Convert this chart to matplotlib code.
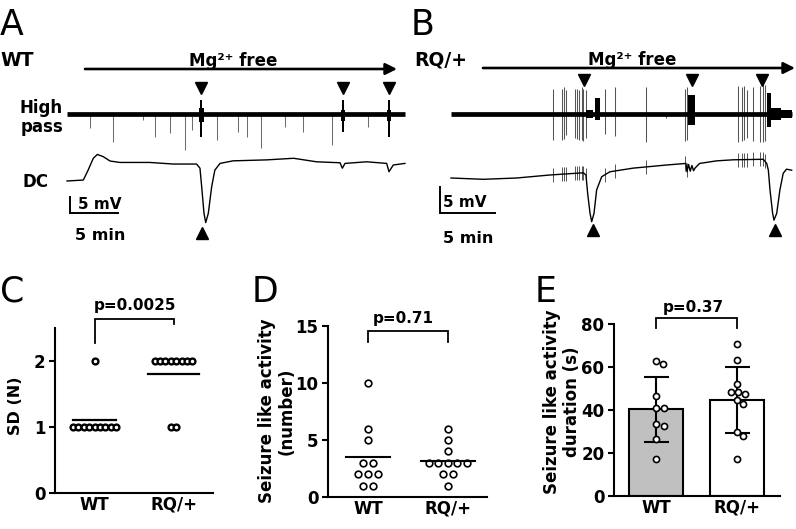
import numpy as np
import matplotlib
matplotlib.use("Agg")
import matplotlib.pyplot as plt

plt.rcParams['font.family'] = ['DejaVu Sans']
plt.rcParams['mathtext.fontset'] = 'dejavusans'

W, H = 796, 529

# ---------------- data ----------------
groups = ["WT", "RQ/+"]

# Panel A (WT): DC trace (min, mV)
wt_dc_t = [0.0, 1.7, 2.2, 2.74, 3.16, 3.78, 4.48, 5.5, 8.6, 11.07,
           13.5, 13.85, 14.03, 14.27, 14.45, 14.72, 15.07, 15.4, 15.94, 17.3,
           20.8, 23.6, 26.0, 28.44, 28.68, 28.96, 31.2, 33.3, 33.54, 33.99, 35.2]
wt_dc_mv = [0.0, 0.3, 3.4, 7.1, 8.3, 7.6, 6.25, 5.8, 5.8, 5.3,
            5.3, 4.0, -1.8, -10.1, -13.0, -10.1, -1.8, 3.4, 5.5, 6.3,
            6.6, 7.1, 6.0, 5.7, 4.0, 5.5, 6.0, 5.5, 2.9, 5.0, 5.5]
# Panel A high-pass: isolated spikes (time, depth) and seizure-like bursts
wt_spike_t = [2.40, 4.79, 7.92, 9.17, 10.73, 12.29, 13.02, 15.63, 17.81,
              18.75, 20.21, 22.71, 24.58, 27.60, 31.35]
wt_spike_depth = [4.4, 8.8, 1.9, 7.2, 5.9, 11.3, 5.0, 8.1, 5.6,
                  7.2, 10.6, 4.1, 5.6, 9.7, 4.1]
wt_burst_start = [13.70, 13.85, 28.50, 28.62, 33.30, 33.45]
wt_burst_end = [14.30, 14.10, 28.95, 28.85, 33.80, 33.65]
wt_burst_up = [2.0, 4.4, 1.5, 4.4, 1.5, 4.4]
wt_burst_down = [2.5, 7.2, 2.0, 5.5, 2.0, 7.2]
wt_hp_events = [13.96, 28.75, 33.54]
wt_sd_events = [14.06]

# Panel B (RQ/+)
rq_dc_t = [0.0, 2.94, 5.97, 9.0, 12.03, 12.27, 12.42, 12.64, 12.79, 13.0,
           13.24, 13.7, 14.45, 16.57, 19.6, 21.36, 21.45, 21.6, 21.75, 21.9,
           22.05, 22.18, 22.6, 24.15, 25.66, 28.39, 28.7, 28.85, 29.0, 29.24,
           29.36, 29.61, 29.9, 30.2, 30.5, 30.97]
rq_dc_mv = [0.0, -0.25, 0.0, 0.58, 1.0, 0.58, -2.9, -6.8, -8.4, -6.8,
            -2.3, 0.25, 1.2, 1.9, 2.5, 2.8, 1.2, 2.6, 1.3, 2.4,
            1.4, 1.9, 2.8, 3.3, 3.5, 3.6, 2.8, 1.5, -2.3, -6.8,
            -8.1, -6.8, -2.3, 0.9, 1.7, 1.5]
rq_spike_t = [9.30, 10.06, 10.27, 10.45, 11.27, 11.43, 11.66, 11.88, 12.03, 12.25,
              14.00, 14.91, 17.70, 19.55, 21.27, 21.43, 26.06, 26.43, 26.66, 26.88,
              27.48, 28.09, 28.34, 28.55]
rq_spike_up = [4.9, 4.9, 5.1, 4.6, 4.9, 4.9, 4.6, 5.1, 4.9, 4.6,
               4.9, 5.1, 5.1, 0.3, 4.9, 5.1, 5.4, 5.1, 5.4, 4.6,
               5.1, 5.4, 5.6, 5.6]
rq_spike_down = [5.0, 5.0, 4.8, 4.0, 4.6, 4.8, 5.0, 5.0, 5.2, 4.6,
                 3.9, 4.2, 5.4, 0.8, 5.2, 5.0, 5.4, 5.2, 5.0, 4.6,
                 5.2, 5.4, 5.4, 5.2]
rq_burst_start = [12.30, 13.05, 21.50, 28.70, 29.10, 30.00]
rq_burst_end = [12.90, 13.50, 22.20, 29.10, 30.00, 31.00]
rq_burst_up = [0.8, 3.0, 3.65, 4.0, 1.2, 0.7]
rq_burst_down = [0.8, 1.2, 2.1, 2.5, 1.2, 0.7]
rq_hp_events = [12.09, 21.94, 28.25]
rq_sd_events = [12.94, 29.45]

# scale bars
scale_mv = 5
scale_min = 5

# Panel C: SD number
sd_wt = [2, 1, 1, 1, 1, 1, 1, 1, 1, 1]
sd_rq = [2, 2, 2, 2, 2, 2, 2, 2, 1, 1]
# Panel D: seizure-like activity number
num_wt = [10, 6, 5, 3, 3, 2, 2, 2, 1, 1]
num_rq = [6, 5, 4, 3, 3, 3, 3, 3, 2, 2, 1]
# Panel E: seizure-like activity duration (s)
dur_wt = [62.9, 61.4, 46.7, 41.1, 41.1, 33.3, 32.6, 26.4, 17.2]
dur_rq = [70.7, 63.3, 52.0, 48.5, 48.2, 47.3, 44.7, 42.6, 29.9, 27.9, 17.2]

p_texts = ["p=0.0025", "p=0.71", "p=0.37"]

# ---------------- figure ----------------
fig = plt.figure(figsize=(W / 100, H / 100), dpi=100)


def ax_px(left, top, right, bottom, **kw):
    return fig.add_axes([left / W, 1 - bottom / H, (right - left) / W, (bottom - top) / H], **kw)


ov = ax_px(0, 0, W, H)
ov.set_xlim(0, W)
ov.set_ylim(H, 0)
ov.axis('off')

BOLD = dict(fontweight='bold', color='black')


def draw_traces(ax, t0px, pxmin, v0px, pxmv, left, right, top, bottom,
                dc_t, dc_v, hp_y, spikes, bursts, hp_ev, sd_ev, ev_y, sd_y,
                bar_t, bar_v, spike_color):
    ax.set_xlim((left - t0px) / pxmin, (right - t0px) / pxmin)
    ax.set_ylim((v0px - bottom) / pxmv, (v0px - top) / pxmv)
    ax.axis('off')
    ax.patch.set_visible(False)
    # high-pass trace
    ax.plot([dc_t[0], dc_t[-1]], [hp_y, hp_y], color='black', lw=3.4,
            solid_capstyle='butt', zorder=3)
    st, up, dn = spikes
    ax.vlines(st, hp_y - np.asarray(dn), hp_y + np.asarray(up), color=spike_color,
              lw=0.75, zorder=2)
    for s, e, u, d in zip(*bursts):
        ax.fill_between([s, e], [hp_y - d] * 2, [hp_y + u] * 2, color='black',
                        lw=0, zorder=4)
    # DC trace
    ax.plot(dc_t, dc_v, color='black', lw=1.0, zorder=3)
    # event markers
    ax.plot(hp_ev, [ev_y] * len(hp_ev), 'v', color='black', ms=8.5, zorder=5)
    ax.plot(sd_ev, [sd_y] * len(sd_ev), '^', color='black', ms=8.5, zorder=5)
    # scale bar
    ax.plot([bar_t, bar_t, bar_t + scale_min], [bar_v + scale_mv, bar_v, bar_v],
            color='black', lw=1.4, solid_joinstyle='miter', zorder=5)


# Panel A
axA = ax_px(0, 40, 412, 250)
draw_traces(axA, 67, 9.6, 181, 3.2, 0, 412, 40, 250,
            wt_dc_t, wt_dc_mv, (181 - 114.3) / 3.2,
            (wt_spike_t, [0] * len(wt_spike_t), wt_spike_depth),
            (wt_burst_start, wt_burst_end, wt_burst_up, wt_burst_down),
            wt_hp_events, wt_sd_events, (181 - 88) / 3.2, (181 - 233) / 3.2,
            (70 - 67) / 9.6, (181 - 213) / 3.2, '#6e6e6e')

# Panel B
axB = ax_px(400, 40, W, 250)
draw_traces(axB, 451, 11.0, 178, 5.2, 400, W, 40, 250,
            rq_dc_t, rq_dc_mv, (178 - 114) / 5.2,
            (rq_spike_t, rq_spike_up, rq_spike_down),
            (rq_burst_start, rq_burst_end, rq_burst_up, rq_burst_down),
            rq_hp_events, rq_sd_events, (178 - 80) / 5.2, (178 - 230) / 5.2,
            (440 - 451) / 11.0, (178 - 213) / 5.2, '#555555')
# spikes riding on the DC trace of B
dc_at = np.interp(rq_spike_t, rq_dc_t, rq_dc_mv)
big = np.asarray(rq_spike_up) > 1
axB.vlines(np.asarray(rq_spike_t)[big], dc_at[big] - 1.35, dc_at[big] + 1.35,
           color='#555555', lw=0.7, zorder=2)

# arrows and labels of top panels
for x0, x1, y in [(85, 397, 69), (483, 795, 68)]:
    ov.annotate('', xy=(x1, y), xytext=(x0, y),
                arrowprops=dict(arrowstyle='-|>', lw=1.9, color='black',
                                mutation_scale=17, shrinkA=0, shrinkB=0))
ov.text(233, 66.5, 'Mg\u00b2\u207a free', fontsize=12, ha='center', va='baseline', **BOLD)
ov.text(632, 65, 'Mg\u00b2\u207a free', fontsize=12, ha='center', va='baseline', **BOLD)
ov.text(0, 65.5, 'WT', fontsize=13.5, ha='left', va='baseline', **BOLD)
ov.text(414, 65.5, 'RQ/+', fontsize=13.5, ha='left', va='baseline', **BOLD)
ov.text(41.5, 113, 'High', fontsize=12, ha='center', va='baseline', **BOLD)
ov.text(41.5, 132, 'pass', fontsize=12, ha='center', va='baseline', **BOLD)
ov.text(23, 187, 'DC', fontsize=12, ha='left', va='baseline', **BOLD)
ov.text(78, 209, '5 mV', fontsize=11, ha='left', va='baseline', **BOLD)
ov.text(75, 240, '5 min', fontsize=11.5, ha='left', va='baseline', **BOLD)
ov.text(443, 207, '5 mV', fontsize=11, ha='left', va='baseline', **BOLD)
ov.text(443, 243, '5 min', fontsize=11.5, ha='left', va='baseline', **BOLD)

# panel letters
for x, y, s in [(0, 35, 'A'), (411, 35, 'B'), (0, 302, 'C'), (251.5, 302, 'D'), (534.5, 302, 'E')]:
    ov.text(x, y, s, fontsize=25, ha='left', va='baseline', color='black')


# ---------------- bottom panels ----------------
def style(ax, yticks, ylim, xlim):
    for s in ['top', 'right']:
        ax.spines[s].set_visible(False)
    for s in ['left', 'bottom']:
        ax.spines[s].set_linewidth(1.5)
    ax.set_ylim(*ylim)
    ax.set_xlim(*xlim)
    ax.set_yticks(yticks)
    ax.set_xticks([0, 1])
    ax.set_xticklabels(groups)
    ax.tick_params(axis='y', length=4.5, width=1.5, labelsize=12, pad=2.5)
    ax.tick_params(axis='x', length=0, labelsize=12, pad=2)
    for lab in ax.get_yticklabels() + ax.get_xticklabels():
        lab.set_fontweight('bold')
    ax.patch.set_visible(False)


def row_offsets(vals, step):
    vals = np.asarray(vals, dtype=float)
    offs = np.zeros(len(vals))
    for v in np.unique(vals):
        idx = np.where(vals == v)[0]
        offs[idx] = (np.arange(len(idx)) - (len(idx) - 1) / 2) * step
    return offs


def swarm_offsets(vals, diam_px, xpx, ypx):
    placed, offs = [], []
    steps = np.arange(0.25, 60, 0.25)
    cands = [0.0] + [s * d for d in steps for s in (1, -1)]
    for v in vals:
        y = v * ypx
        for dx in cands:
            if all((dx - px) ** 2 + (y - py) ** 2 >= diam_px ** 2 for px, py in placed):
                break
        placed.append((dx, y))
        offs.append(dx / xpx)
    return np.array(offs)


def bracket(ax, y_top, y_left, y_right):
    ax.plot([0, 0, 1, 1], [y_left, y_top, y_top, y_right], color='black', lw=1.3,
            clip_on=False, solid_joinstyle='miter')


# Panel C
axC = ax_px(55, 328, 213, 493)
style(axC, [0, 1, 2], (0, 2.5), (-0.5, 1.5))
for i, (vals, hw) in enumerate([(sd_wt, 0.27), (sd_rq, 0.32)]):
    xs = i + row_offsets(vals, 0.068)
    axC.plot(xs, vals, 'o', ms=4.2, mfc='white', mec='black', mew=1.7, clip_on=False, zorder=3)
    m = np.mean(vals)
    axC.plot([i - hw, i + hw], [m, m], color='black', lw=1.6, zorder=4)
bracket(axC, 2.636, 2.27, 2.56)
ov.text(135, 310, p_texts[0], fontsize=11, ha='center', va='baseline', **BOLD)
ov.text(15, 406, 'SD (N)', fontsize=11.5, rotation=90, ha='center', va='center', **BOLD)

# Panel D
axD = ax_px(328, 326, 487, 497)
style(axD, [0, 5, 10, 15], (0, 15), (-0.5, 1.49))
for i, (vals, hw) in enumerate([(num_wt, 0.28), (num_rq, 0.34)]):
    xs = i + row_offsets(vals, 0.12)
    axD.plot(xs, vals, 'o', ms=4.8, mfc='white', mec='black', mew=1.2, clip_on=False, zorder=3)
    m = np.mean(vals)
    axD.plot([i - hw, i + hw], [m, m], color='black', lw=1.5, zorder=4)
bracket(axD, 14.56, 13.6, 13.6)
ov.text(403, 323, p_texts[1], fontsize=11, ha='center', va='baseline', **BOLD)
ov.text(277, 411, 'Seizure like activity\n(number)', fontsize=12, rotation=90,
        ha='center', va='center', multialignment='center', linespacing=1.15, **BOLD)

# Panel E
axE = ax_px(614, 324, 780, 496)
style(axE, [0, 20, 40, 60, 80], (0, 80), (-0.519, 1.531))
means = [np.mean(dur_wt), np.mean(dur_rq)]
sds = [np.std(dur_wt, ddof=1), np.std(dur_rq, ddof=1)]
axE.bar([0, 1], means, width=0.66, color=['#c0c0c0', 'white'], edgecolor='black',
        lw=1.5, zorder=1)
axE.errorbar([0, 1], means, yerr=sds, fmt='none', ecolor='black', elinewidth=1.5,
             capsize=9, capthick=1.5, zorder=2)
for i, vals in enumerate([dur_wt, dur_rq]):
    xs = i + swarm_offsets(vals, 7.6, 81, 2.15)
    axE.plot(xs, vals, 'o', ms=4.4, mfc='white', mec='black', mew=1.2, clip_on=False, zorder=3)
bracket(axE, 82.8, 78.1, 78.1)
ov.text(693, 311.7, p_texts[2], fontsize=11, ha='center', va='baseline', **BOLD)
ov.text(562, 402, 'Seizure like activity\nduration (s)', fontsize=12, rotation=90,
        ha='center', va='center', multialignment='center', linespacing=1.15, **BOLD)

fig.savefig('out.png', dpi=100)
